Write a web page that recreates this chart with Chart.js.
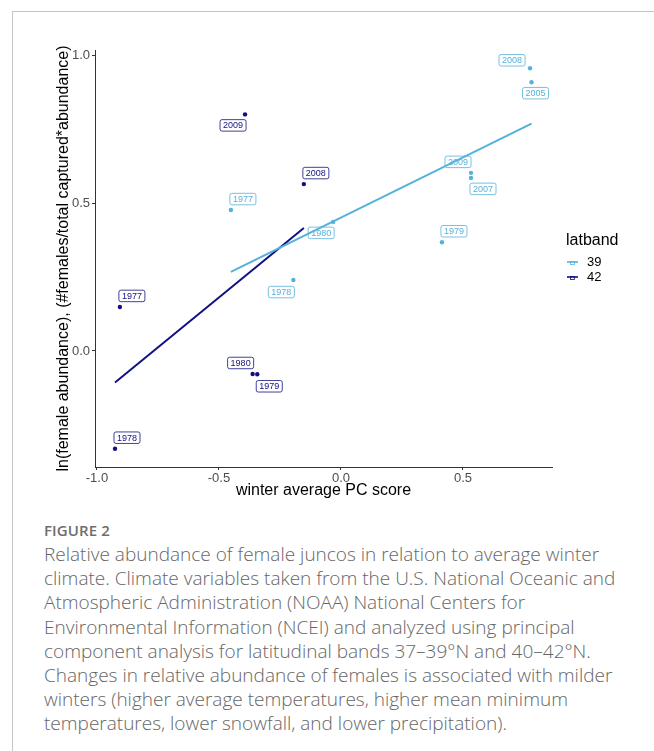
<!DOCTYPE html>
<html>
<head>
<meta charset="utf-8">
<script src="https://cdn.jsdelivr.net/npm/chart.js@4"></script>
<style>
  html, body { margin:0; padding:0; background:#fff; }
  body { width:654px; height:751px; position:relative; overflow:hidden; }
  #frameV { position:absolute; left:12px; top:11px; width:1px; height:740px; background:#c4c4c4; }
  #frameH { position:absolute; left:12px; top:11px; width:642px; height:1px; background:#c4c4c4; }
  #wrap { position:absolute; left:0; top:0; width:654px; height:510px; }
  #cap { position:absolute; left:44px; top:518px; font-family: "Open Sans", Lato, "Noto Sans", sans-serif; color:#666; }
  #cap .fig { font-size:15px; font-weight:600; line-height:24px; color:#6e6e6e; letter-spacing:0.1px; }
  #cap .ln { font-size:19px; font-weight:300; line-height:24.2px; white-space:nowrap; }
</style>
</head>
<body>
<div id="frameV"></div>
<div id="frameH"></div>
<div id="wrap"><canvas id="c"></canvas></div>
<div id="cap">
  <div class="fig">FIGURE 2</div>
  <div class="ln">Relative abundance of female juncos in relation to average winter</div>
  <div class="ln">climate. Climate variables taken from the U.S. National Oceanic and</div>
  <div class="ln">Atmospheric Administration (NOAA) National Centers for</div>
  <div class="ln">Environmental Information (NCEI) and analyzed using principal</div>
  <div class="ln">component analysis for latitudinal bands 37–39°N and 40–42°N.</div>
  <div class="ln">Changes in relative abundance of females is associated with milder</div>
  <div class="ln">winters (higher average temperatures, higher mean minimum</div>
  <div class="ln">temperatures, lower snowfall, and lower precipitation).</div>
</div>
<script>
// ---- data ----
const years39 = ['1977','1978','1979','1980','2005','2007','2008','2009'];
const pc39    = [-0.451, -0.195, 0.414, -0.032, 0.781, 0.533, 0.775, 0.533];
const abund39 = [0.477, 0.240, 0.368, 0.437, 0.910, 0.586, 0.957, 0.603];

const years42 = ['1977','1978','1979','1980','2008','2009'];
const pc42    = [-0.906, -0.926, -0.343, -0.362, -0.152, -0.393];
const abund42 = [0.149, -0.331, -0.079, -0.078, 0.565, 0.801];

const fitX39 = [-0.451, 0.781];
const fitY39 = [0.268, 0.770];
const fitX42 = [-0.926, -0.152];
const fitY42 = [-0.107, 0.416];

const xTicks = [-1.0, -0.5, 0.0, 0.5];
const yTicks = [0.0, 0.5, 1.0];
const groups = ['39', '42'];

// ---- styles ----
const COL39 = '#56B1DA';
const COL42 = '#101082';
// label offsets in pixels (ggrepel placement)
const labOff39 = [[12,-11],[-12,12],[12,-11],[-12,11],[4,11],[12,11],[-18,-8],[-13,-11]];
const labOff42 = [[12,-11],[12,-11],[12,12],[-12,-11],[12,-11],[-12,11]];

const toPts = (xs, ys) => xs.map((x, i) => ({x: x, y: ys[i]}));
const FONT = '"Liberation Sans", Arial, sans-serif';

const labelPlugin = {
  id: 'labels',
  beforeDatasetsDraw(chart) {
    const ctx = chart.ctx;
    ctx.save();
    ctx.font = '9px ' + FONT;
    ctx.textAlign = 'center';
    ctx.textBaseline = 'middle';
    chart.data.datasets.forEach((ds, di) => {
      if (!ds.yearLabels) return;
      const meta = chart.getDatasetMeta(di);
      meta.data.forEach((el, i) => {
        const off = ds.labOff[i];
        const cx = el.x + off[0], cy = el.y + off[1];
        const txt = ds.yearLabels[i];
        const w = ctx.measureText(txt).width + 6, h = 11.5;
        ctx.beginPath();
        ctx.roundRect(cx - w/2, cy - h/2, w, h, 2);
        ctx.fillStyle = '#ffffff';
        ctx.fill();
        ctx.lineWidth = 0.8;
        ctx.strokeStyle = ds.pointBackgroundColor;
        ctx.stroke();
        ctx.fillStyle = ds.pointBackgroundColor;
        ctx.fillText(txt, cx, cy + 0.5);
      });
    });
    ctx.restore();
  }
};

const legendPlugin = {
  id: 'ggLegend',
  afterDraw(chart) {
    const ctx = chart.ctx, a = chart.chartArea;
    const x0 = a.right + 14;
    const yT = a.top + 191;
    ctx.save();
    ctx.fillStyle = '#000';
    ctx.font = '16px ' + FONT;
    ctx.textAlign = 'left';
    ctx.textBaseline = 'middle';
    ctx.fillText('latband', x0, yT);
    const cols = [COL39, COL42];
    groups.forEach((g, i) => {
      const y = yT + 21 + i * 15;
      ctx.strokeStyle = cols[i];
      ctx.lineWidth = 1.6;
      ctx.beginPath(); ctx.moveTo(x0 + 1, y); ctx.lineTo(x0 + 12, y); ctx.stroke();
      ctx.lineWidth = 0.8;
      ctx.strokeRect(x0 + 4.5, y - 0.5, 4, 3);
      ctx.fillStyle = '#000';
      ctx.font = '13px ' + FONT;
      ctx.fillText(g, x0 + 21, y);
    });
    ctx.restore();
  }
};

new Chart(document.getElementById('c'), {
  type: 'scatter',
  data: {
    datasets: [
      { label: 'fit39', data: toPts(fitX39, fitY39), showLine: true, borderColor: COL39, borderWidth: 2,
        pointRadius: 0, order: 0 },
      { label: 'fit42', data: toPts(fitX42, fitY42), showLine: true, borderColor: COL42, borderWidth: 2,
        pointRadius: 0, order: 0 },
      { label: '39', data: toPts(pc39, abund39), pointBackgroundColor: COL39, backgroundColor: COL39,
        pointBorderWidth: 0, pointRadius: 2.2, yearLabels: years39, labOff: labOff39, order: 1 },
      { label: '42', data: toPts(pc42, abund42), pointBackgroundColor: COL42, backgroundColor: COL42,
        pointBorderWidth: 0, pointRadius: 2.2, yearLabels: years42, labOff: labOff42, order: 1 }
    ]
  },
  options: {
    responsive: true,
    maintainAspectRatio: false,
    animation: false,
    layout: { padding: { left: 54, top: 50, right: 102, bottom: 10 } },
    plugins: { legend: { display: false }, tooltip: { enabled: false } },
    scales: {
      x: {
        type: 'linear', position: 'bottom', min: -1.008, max: 0.865,
        afterBuildTicks: s => { s.ticks = xTicks.map(v => ({ value: v })); },
        afterFit: s => { s.height = 33; },
        border: { display: true, color: '#333333', width: 1 },
        grid: { drawOnChartArea: false, drawTicks: true, tickLength: 3, color: '#333333' },
        ticks: { color: '#4d4d4d', font: { size: 13, family: FONT }, padding: 1,
                 callback: v => v.toFixed(1) },
        title: { display: true, text: 'winter average PC score', color: '#000',
                 font: { size: 16, family: FONT }, padding: { top: 0, bottom: 0 } }
      },
      y: {
        type: 'linear', position: 'left', min: -0.393, max: 1.019,
        afterBuildTicks: s => { s.ticks = yTicks.map(v => ({ value: v })); },
        afterFit: s => { s.width = 41; },
        border: { display: true, color: '#333333', width: 1 },
        grid: { drawOnChartArea: false, drawTicks: true, tickLength: 3, color: '#333333' },
        ticks: { color: '#4d4d4d', font: { size: 13, family: FONT }, padding: 2,
                 callback: v => v.toFixed(1) },
        title: { display: true, text: 'ln(female abundance), (#females/total captured*abundance)', color: '#000',
                 font: { size: 16, family: FONT }, padding: { top: 0, bottom: 0 } }
      }
    }
  },
  plugins: [labelPlugin, legendPlugin]
});
</script>
</body>
</html>
